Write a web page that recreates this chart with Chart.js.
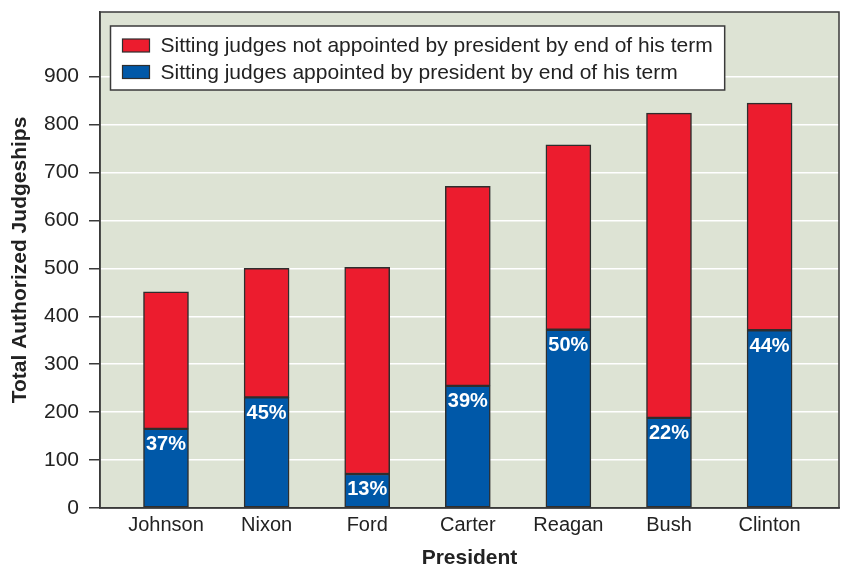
<!DOCTYPE html>
<html>
<head>
<meta charset="utf-8">
<script src="https://cdn.jsdelivr.net/npm/chart.js@4.4.1/dist/chart.umd.min.js"></script>
<style>
  html, body { margin: 0; padding: 0; background: #fff; }
  #wrap { width: 841px; height: 571px; }
</style>
</head>
<body>
<div id="wrap"><canvas id="judges"></canvas></div>
<script>
// data
const presidents = ['Johnson', 'Nixon', 'Ford', 'Carter', 'Reagan', 'Bush', 'Clinton'];
const appointed = [165, 231, 71, 255, 372, 188, 371];
const notAppointed = [286, 269, 431, 416, 386, 636, 474];
const pctLabels = ['37%', '45%', '13%', '39%', '50%', '22%', '44%'];
const yTicks = [0, 100, 200, 300, 400, 500, 600, 700, 800, 900];

const FONT = '"Liberation Sans", Arial, Helvetica, sans-serif';
const RED = '#ec1c2e';
const BLUE = '#0058a8';
const EDGE = '#2e2e2e';

// plot background + frame
const frame = {
  id: 'frame',
  beforeDraw(chart) {
    const { ctx, chartArea: a } = chart;
    ctx.save();
    ctx.fillStyle = '#dde3d4';
    ctx.fillRect(a.left, a.top, a.right - a.left, a.bottom - a.top);
    ctx.restore();
  },
  afterDatasetsDraw(chart) {
    const { ctx, chartArea: a } = chart;
    ctx.save();
    ctx.strokeStyle = '#3a3a3a';
    ctx.lineWidth = 1.5;
    ctx.strokeRect(a.left, a.top, a.right - a.left, a.bottom - a.top);
    ctx.restore();
  }
};

// percent labels inside the blue bars
const pctPlugin = {
  id: 'pct',
  afterDatasetsDraw(chart) {
    const { ctx } = chart;
    const meta = chart.getDatasetMeta(0);
    ctx.save();
    ctx.fillStyle = '#fff';
    ctx.font = 'bold 20px ' + FONT;
    ctx.textAlign = 'center';
    ctx.textBaseline = 'middle';
    meta.data.forEach((bar, i) => {
      ctx.fillText(pctLabels[i], bar.x, bar.y + 16);
    });
    ctx.restore();
  }
};

// boxed legend inside the plot, red first
const legendBox = {
  id: 'legendBox',
  afterDraw(chart) {
    const { ctx, chartArea: a } = chart;
    const sets = chart.data.datasets.slice().reverse();
    const x = a.left + 10.5, y = a.top + 14;
    ctx.save();
    ctx.font = '21px ' + FONT;
    let w = 0;
    sets.forEach(d => { w = Math.max(w, ctx.measureText(d.label).width); });
    const boxW = 50 + w + 12, boxH = 64;
    ctx.fillStyle = '#fff';
    ctx.fillRect(x, y, boxW, boxH);
    ctx.strokeStyle = '#3a3a3a';
    ctx.lineWidth = 1.5;
    ctx.strokeRect(x, y, boxW, boxH);
    sets.forEach((d, i) => {
      const cy = y + 19.5 + i * 26.5;
      ctx.fillStyle = d.backgroundColor;
      ctx.fillRect(x + 12, cy - 6.5, 27, 13);
      ctx.strokeStyle = EDGE;
      ctx.lineWidth = 1.2;
      ctx.strokeRect(x + 12, cy - 6.5, 27, 13);
      ctx.fillStyle = '#222';
      ctx.textBaseline = 'middle';
      ctx.fillText(d.label, x + 50, cy + 1);
    });
    ctx.restore();
  }
};

const ctx = document.getElementById('judges');

new Chart(ctx, {
  type: 'bar',
  data: {
    datasets: [{
      label: 'Sitting judges appointed by president by end of his term',
      data: appointed.map((v, i) => ({ x: i, y: v })),
      backgroundColor: BLUE,
      borderColor: EDGE,
      borderWidth: 1.5,
      borderSkipped: false
    }, {
      label: 'Sitting judges not appointed by president by end of his term',
      data: notAppointed.map((v, i) => ({ x: i, y: v })),
      backgroundColor: RED,
      borderColor: EDGE,
      borderWidth: 1.5,
      borderSkipped: false
    }]
  },
  options: {
    responsive: true,
    maintainAspectRatio: false,
    animation: false,
    barThickness: 45,
    layout: { padding: { top: 12, right: 2, left: 0, bottom: 0 } },
    plugins: {
      legend: { display: false },
      tooltip: { enabled: false }
    },
    scales: {
      x: {
        type: 'linear',
        stacked: true,
        offset: false,
        min: -0.656,
        max: 6.69,
        afterBuildTicks: (scale) => { scale.ticks = presidents.map((_, i) => ({ value: i })); },
        afterFit: (scale) => { scale.height = 63; },
        grid: { display: false, drawTicks: false },
        border: { display: true, color: '#3a3a3a', width: 1.5 },
        ticks: {
          padding: 5,
          color: '#222',
          font: { family: FONT, size: 20 },
          callback: (v) => presidents[v]
        },
        title: {
          display: true,
          text: 'President',
          color: '#222',
          font: { family: FONT, size: 21, weight: 'bold' },
          padding: { top: 0, bottom: 0 }
        }
      },
      y: {
        stacked: true,
        min: 0,
        max: 1035,
        afterBuildTicks: (scale) => { scale.ticks = yTicks.map(v => ({ value: v })); },
        afterFit: (scale) => { scale.width = 100; scale.paddingTop = 0; scale.paddingBottom = 0; },
        grid: {
          color: '#ffffff',
          lineWidth: 1.5,
          tickColor: '#3a3a3a',
          tickLength: 11,
          tickWidth: 1.5
        },
        border: { display: true, color: '#3a3a3a', width: 1.5 },
        ticks: {
          padding: 10,
          color: '#222',
          font: { family: FONT, size: 21 }
        },
        title: {
          display: true,
          text: 'Total Authorized Judgeships',
          color: '#222',
          font: { family: FONT, size: 21, weight: 'bold' },
          padding: { top: 8, bottom: 0 }
        }
      }
    }
  },
  plugins: [frame, pctPlugin, legendBox]
});
</script>
</body>
</html>
